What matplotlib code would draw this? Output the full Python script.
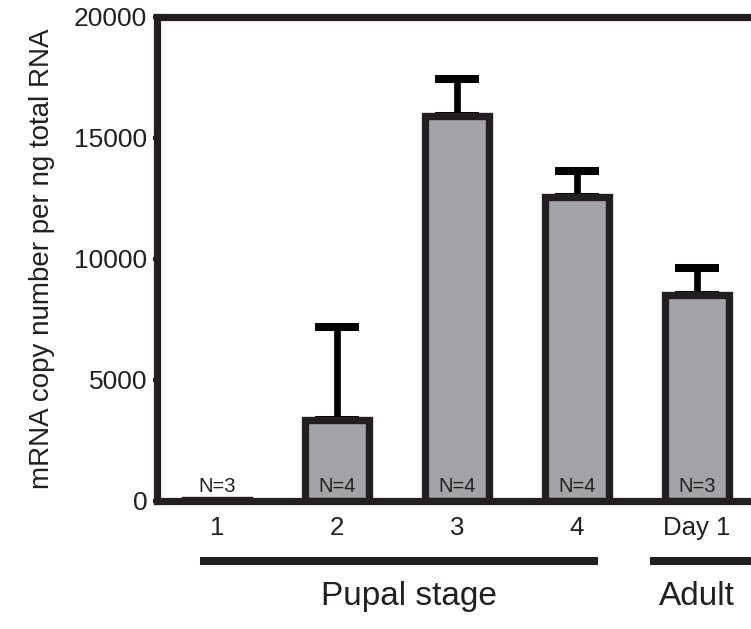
import numpy as np
import matplotlib
matplotlib.use("Agg")
import matplotlib.pyplot as plt
import matplotlib.transforms as mtransforms

plt.rcParams['font.family'] = ['Liberation Sans', 'DejaVu Sans']

# copy number per stage
stages = ["1", "2", "3", "4", "Day 1"]
means = [30, 3350, 15900, 12550, 8500]
errors = [0, 3840, 1540, 1070, 1130]
n_labels = ["N=3", "N=4", "N=4", "N=4", "N=3"]

edge = "#231f20"
fill = "#a3a4a8"

fig = plt.figure(figsize=(7.51, 6.29), dpi=100)
ax = fig.add_axes([0.209, 0.2035, 0.879, 0.7695])

x = np.arange(len(stages))

# error bars first so the bars cover the lower half
mask = np.array(errors) > 0
ax.errorbar(x[mask], np.array(means)[mask],
            yerr=[np.zeros(mask.sum()), np.array(errors)[mask]],
            fmt="none", ecolor="black", elinewidth=4.8, capsize=15.5,
            capthick=5.8, zorder=1)

ax.bar(x, means, width=0.53, color=fill, edgecolor=edge, linewidth=5.3, zorder=2)

for xi, lab in zip(x, n_labels):
    ax.text(xi, 220, lab, ha="center", va="bottom", fontsize=14.5, color=edge, zorder=3)

ax.set_xlim(-0.5, 5.0)
ax.set_ylim(0, 20000)
ax.set_yticks([0, 5000, 10000, 15000, 20000])
ax.set_xticks(x)
ax.set_xticklabels(stages)

ax.spines["right"].set_visible(False)
for side in ["left", "top", "bottom"]:
    ax.spines[side].set_linewidth(5.2)
    ax.spines[side].set_color(edge)

ax.tick_params(axis="y", length=3, width=3, color=edge, labelsize=19,
               labelcolor=edge, pad=4)
ax.tick_params(axis="x", length=0, labelsize=18.5, labelcolor=edge, pad=11)

ax.set_ylabel("mRNA copy number per ng total RNA", fontsize=20, color=edge,
              labelpad=14)

# group brackets under the x axis
trans = mtransforms.blended_transform_factory(ax.transData, ax.transAxes)
ax.plot([-0.14, 3.175], [-0.124, -0.124], color=edge, linewidth=5.8,
        solid_capstyle="butt", transform=trans, clip_on=False)
ax.plot([3.61, 5.0], [-0.124, -0.124], color=edge, linewidth=5.8,
        solid_capstyle="butt", transform=trans, clip_on=False)
ax.text(1.6, -0.197, "Pupal stage", ha="center", va="center", fontsize=24,
        color=edge, transform=trans)
ax.text(4.0, -0.197, "Adult", ha="center", va="center", fontsize=24,
        color=edge, transform=trans)

fig.savefig("out.png", dpi=100)
